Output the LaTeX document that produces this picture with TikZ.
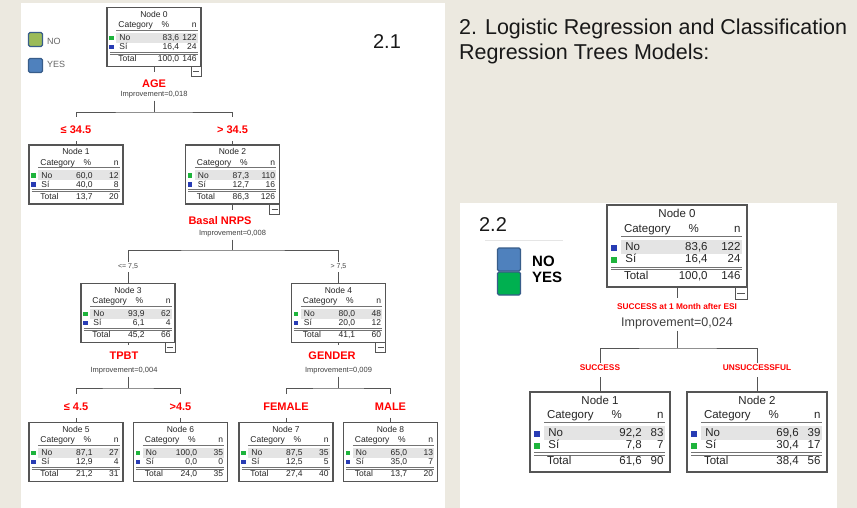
\documentclass[tikz,border=0pt]{standalone}
\usepackage{fontspec}
\setmainfont{Liberation Sans}

\definecolor{paper}{RGB}{236,233,224}
\definecolor{framegray}{RGB}{85,85,85}
\definecolor{bandgray}{RGB}{228,228,228}
\definecolor{sqgreen}{RGB}{30,180,60}
\definecolor{sqblue}{RGB}{40,60,180}
\definecolor{legolive}{RGB}{155,187,89}
\definecolor{legblue}{RGB}{79,129,189}
\definecolor{leggreen}{RGB}{0,176,80}
\definecolor{legedge}{RGB}{56,93,138}

% size and look of the category tables, reset before each tree
\def\bw{94}\def\bh{59}\def\sq{4.5}
\def\bfont{\fontsize{8.5}{9.5}\selectfont}
\def\nocol{sqgreen}\def\sicol{sqblue}

% [% column] name, centre, node number, No %, No n, Si %, Si n, Total %
\newcommand{\catbox}[9][.68]{%
  \node[catframe, minimum width=\bw pt, minimum height=\bh pt] (#2) at (#3) {};
  \begin{scope}[shift={(#2.north west)}, x=\bw pt, y=-\bh pt,
      every node/.style={inner sep=0pt, font=\bfont, text=black!85}]
    \fill[bandgray] (.1,.43) rectangle (.965,.6);
    \node[anchor=mid] at (.5,.12) {Node #4};
    \node[anchor=mid west] at (.12,.3) {Category};
    \node[anchor=mid] at (.62,.3) {\%};
    \node[anchor=mid east] at (.955,.3) {n};
    \draw[tabline] (.1,.38) -- (.965,.38);
    \node[fill=\nocol, minimum size=\sq pt] at (.05,.52) {};
    \node[anchor=mid west] at (.13,.52) {No};
    \node[anchor=mid east] at (#1,.52) {#5};
    \node[anchor=mid east] at (.955,.52) {#6};
    \node[fill=\sicol, minimum size=\sq pt] at (.05,.67) {};
    \node[anchor=mid west] at (.13,.67) {Sí};
    \node[anchor=mid east] at (#1,.67) {#7};
    \node[anchor=mid east] at (.955,.67) {#8};
    \draw[tabline] (.03,.755) -- (.965,.755) (.03,.785) -- (.965,.785);
    \node[anchor=mid west] at (.12,.875) {Total};
    \node[anchor=mid east] at (#1,.875) {#9};
    \node[anchor=mid east] at (.955,.875) {\the\numexpr#6+#8\relax};
  \end{scope}}

\begin{document}
\begin{tikzpicture}[x=1pt, y=-1pt,
    catframe/.style={draw=framegray, line width=1.1pt, fill=white, inner sep=0pt, outer sep=0pt},
    tabline/.style={draw=black!55, line width=.6pt},
    minusbox/.style={draw=framegray, line width=.8pt, fill=white, minimum size=#1,
      inner sep=0pt, outer sep=0pt, anchor=north east,
      path picture={\draw[framegray, line width=.8pt]
        ([xshift=2pt]path picture bounding box.west) -- ([xshift=-2pt]path picture bounding box.east);}},
    minusbox/.default=10pt,
    branch/.style={draw=framegray, line width=.9pt},
    splitvar/.style={text=red, font=\fontsize{11}{13}\selectfont\bfseries, inner sep=3pt},
    cutlab/.style={text=red, font=\fontsize{11}{13}\selectfont\bfseries, inner sep=4pt},
    smallcut/.style={text=black!75, font=\fontsize{7}{8}\selectfont, inner sep=2pt},
    improve/.style={text=black!75, font=\fontsize{7.5}{9}\selectfont, inner sep=2pt},
    redsmall/.style={text=red, font=\fontsize{8.3}{10}\selectfont\bfseries, inner sep=2pt},
    improvebig/.style={text=black!75, font=\fontsize{12.5}{15}\selectfont, inner sep=2pt},
    legsq/.style={draw=legedge, line width=1.2pt, rounded corners=1.5pt, inner sep=0pt},
    heading/.style={text=black!90, font=\fontsize{20}{24}\selectfont, inner sep=0pt}]

% page and panels
\useasboundingbox (0,0) rectangle (857,508);
\fill[paper] (0,0) rectangle (857,508);
\fill[white] (21,3) rectangle (445,508);
\fill[white] (460,203) rectangle (837,508);
\draw[black!10] (485,240) -- (563,240);

\node[heading] (lab21) at (387,42) {2.1};
\node[heading] (lab22) at (493,224.5) {2.2};
\node[heading, font=\fontsize{21.5}{25}\selectfont, anchor=north west, align=left] (title) at (459,19)
  {2. Logistic Regression and Classification\\Regression Trees Models:};

% legends
\node[legsq, fill=legolive, minimum size=14pt] (keyno) at (35.5,39.5) {};
\node[legsq, fill=legblue, minimum size=14pt] (keyyes) at (35.5,65.5) {};
\node[anchor=west, inner sep=0pt, text=black!60, font=\fontsize{9}{10}\selectfont] (keynotxt) at (47,41) {NO};
\node[anchor=west, inner sep=0pt, text=black!60, font=\fontsize{9}{10}\selectfont] (keyyestxt) at (47,64) {YES};
\node[legsq, fill=legblue, minimum size=23pt] (keyno2) at (509,259.5) {};
\node[legsq, fill=leggreen, minimum size=23pt] (keyyes2) at (509,283.5) {};
\node[anchor=west, inner sep=0pt, font=\fontsize{15}{18}\selectfont\bfseries] (keynotxt2) at (532,261) {NO};
\node[anchor=west, inner sep=0pt, font=\fontsize{15}{18}\selectfont\bfseries] (keyyestxt2) at (532,277) {YES};

% tree 2.1
\catbox[.77]{n0}{154,37}{0}{83,6}{122}{16,4}{24}{100,0}
\node[minusbox] (m0) at (n0.south east) {};
\node[splitvar] (v0) at (154,84) {AGE};
\node[improve] (i0) at (154,95) {Improvement=0,018};
\coordinate (j0) at (154,112);
\draw[branch, shorten >=5pt] (n0) -- (v0);
\draw[branch] (i0) -- (j0);

\node[cutlab] (c1) at (76,130) {≤ 34.5};
\node[cutlab] (c2) at (232.5,130) {> 34.5};
\draw[branch, shorten <=5pt, shorten >=5pt] (c1) |- (j0) -| (c2);
\catbox{n1}{76,174.5}{1}{60,0}{12}{40,0}{8}{13,7}
\catbox{n2}{232.5,174.5}{2}{87,3}{110}{12,7}{16}{86,3}
\node[minusbox] (m2) at (n2.south east) {};
\draw[branch, shorten <=3pt] (c1) -- (n1);
\draw[branch, shorten <=3pt] (c2) -- (n2);

\node[splitvar] (v2) at (220,221) {Basal NRPS};
\node[improve] (i2) at (232.5,234) {Improvement=0,008};
\coordinate (j2) at (232.5,250);
\draw[branch, shorten >=4pt] (n2) -- (n2 |- v2.north);
\draw[branch] (i2) -- (j2);

\node[smallcut] (c3) at (128,267) {<= 7,5};
\node[smallcut] (c4) at (338.5,267) {> 7,5};
\draw[branch] (c3) |- (j2) -| (c4);
\catbox{n3}{128,313}{3}{93,9}{62}{6,1}{4}{45,2}
\catbox{n4}{338.5,313}{4}{80,0}{48}{20,0}{12}{41,1}
\node[minusbox] (m3) at (n3.south east) {};
\node[minusbox] (m4) at (n4.south east) {};
\draw[branch] (c3) -- (n3);
\draw[branch] (c4) -- (n4);

\node[splitvar] (v3) at (124,356) {TPBT};
\node[improve] (i3) at (124,371) {Improvement=0,004};
\coordinate (j3) at (128,388);
\draw[branch, shorten >=4pt] (n3) -- (n3 |- v3.north);
\draw[branch] (j3 |- i3.south) -- (j3);
\node[splitvar] (v4) at (332,356) {GENDER};
\node[improve] (i4) at (338.5,371) {Improvement=0,009};
\coordinate (j4) at (338.5,388);
\draw[branch, shorten >=4pt] (n4) -- (n4 |- v4.north);
\draw[branch] (i4) -- (j4);

\node[cutlab] (c5) at (76,407) {≤ 4.5};
\node[cutlab] (c6) at (180.5,407) {>4.5};
\node[cutlab] (c7) at (286,407) {FEMALE};
\node[cutlab] (c8) at (390.5,407) {MALE};
\draw[branch, shorten <=5pt, shorten >=5pt] (c5) |- (j3) -| (c6);
\draw[branch, shorten <=5pt, shorten >=5pt] (c7) |- (j4) -| (c8);
\catbox{n5}{76,452}{5}{87,1}{27}{12,9}{4}{21,2}
\catbox{n6}{180.5,452}{6}{100,0}{35}{0,0}{0}{24,0}
\catbox{n7}{286,452}{7}{87,5}{35}{12,5}{5}{27,4}
\catbox{n8}{390.5,452}{8}{65,0}{13}{35,0}{7}{13,7}
\foreach \c/\n in {c5/n5, c6/n6, c7/n7, c8/n8}
  \draw[branch, shorten <=3pt] (\c) -- (\n);

% tree 2.2
\def\bw{140}\def\bh{82}\def\sq{6}
\def\bfont{\fontsize{11.5}{14}\selectfont}
\def\nocol{sqblue}\def\sicol{sqgreen}
\catbox[.72]{r0}{677,246}{0}{83,6}{122}{16,4}{24}{100,0}
\node[minusbox=12pt] (r0m) at (r0.south east) {};
\node[redsmall] (v5) at (677,307) {SUCCESS at 1 Month after ESI};
\node[improvebig] (i5) at (677,323) {Improvement=0,024};
\coordinate (j5) at (677,348);
\draw[branch, shorten >=4pt] (r0) -- (v5);
\draw[branch] (i5) -- (j5);

\node[redsmall] (c9) at (600,368) {SUCCESS};
\node[redsmall] (c10) at (757,368) {UNSUCCESSFUL};
\draw[branch] (c9) |- (j5) -| (c10);
\def\bh{80}
\catbox[.8]{r1}{600,432}{1}{92,2}{83}{7,8}{7}{61,6}
\catbox[.8]{r2}{757,432}{2}{69,6}{39}{30,4}{17}{38,4}
\draw[branch, shorten <=4pt] (c9) -- (r1);
\draw[branch, shorten <=4pt] (c10) -- (r2);
\end{tikzpicture}
\end{document}
